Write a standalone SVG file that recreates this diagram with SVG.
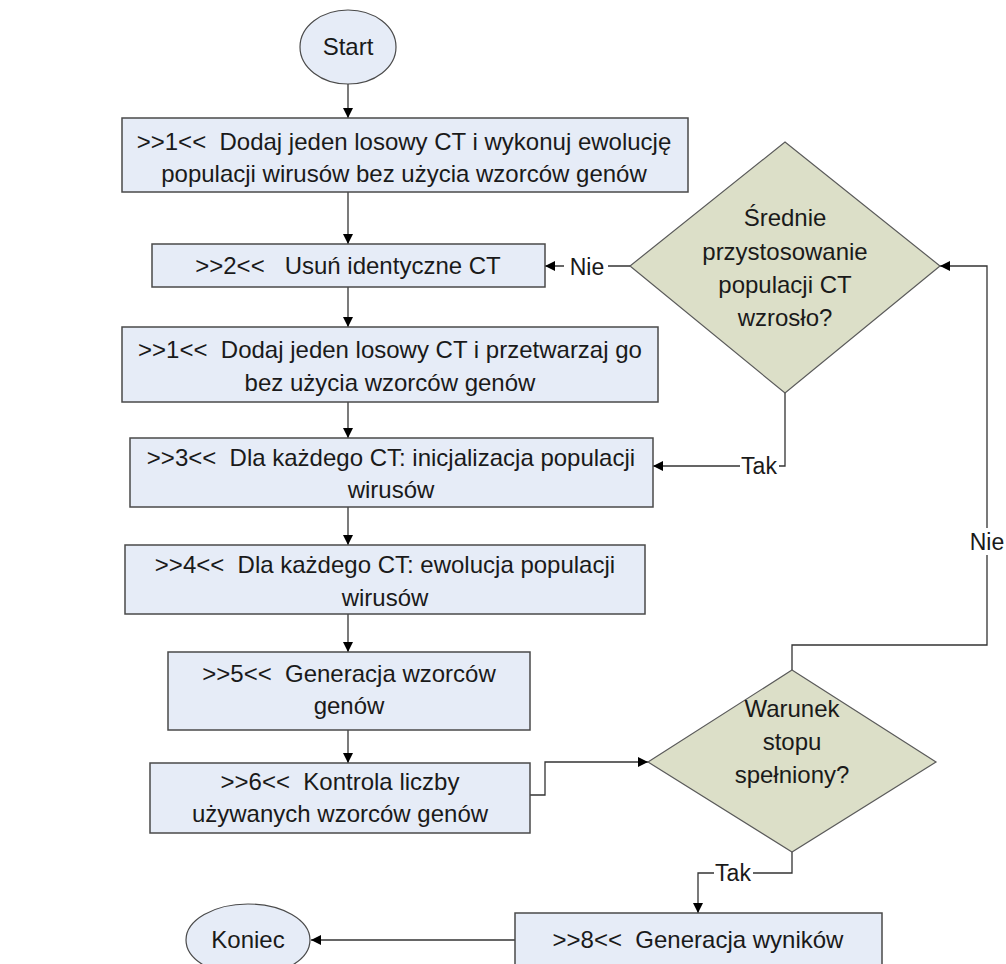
<svg xmlns="http://www.w3.org/2000/svg" width="1006" height="964" viewBox="0 0 1006 964">
  <style>
    .box { fill: #E6ECF7; stroke: #4a4a4a; stroke-width: 1.5; }
    .dec { fill: #DCDFC8; stroke: #5a5a5a; stroke-width: 1.2; }
    .term { fill: #E6ECF7; stroke: #4a4a4a; stroke-width: 1.2; }
    .t { font-family: "Liberation Sans", Arial, sans-serif; font-size: 24px; fill: #1a1a1a; text-anchor: middle; }
    .lbl { font-family: "Liberation Sans", Arial, sans-serif; font-size: 23px; fill: #1a1a1a; text-anchor: middle; }
    .ln { fill: none; stroke: #333; stroke-width: 1.3; }
    .bg { fill: #ffffff; }
  </style>
  <defs>
    <marker id="arr" viewBox="0 0 10 10" refX="10" refY="5" markerWidth="11" markerHeight="10" markerUnits="userSpaceOnUse" orient="auto">
      <path d="M0,0 L10,5 L0,10 z" fill="#000"/>
    </marker>
  </defs>

  <rect width="1006" height="964" fill="#ffffff"/>

  <!-- connectors -->
  <g id="connectors">
    <line class="ln" x1="348" y1="84" x2="348" y2="118" marker-end="url(#arr)"/>
    <line class="ln" x1="348" y1="192" x2="348" y2="244" marker-end="url(#arr)"/>
    <line class="ln" x1="348" y1="287" x2="348" y2="327" marker-end="url(#arr)"/>
    <line class="ln" x1="348" y1="402" x2="348" y2="438" marker-end="url(#arr)"/>
    <line class="ln" x1="348" y1="507" x2="348" y2="545" marker-end="url(#arr)"/>
    <line class="ln" x1="348" y1="614" x2="348" y2="652" marker-end="url(#arr)"/>
    <line class="ln" x1="348" y1="730" x2="348" y2="763" marker-end="url(#arr)"/>
    <!-- Kontrola -> Warunek -->
    <polyline class="ln" points="530,795 545,795 545,762 648,762" marker-end="url(#arr)"/>
    <!-- Warunek: Tak -> wyniki -->
    <polyline class="ln" points="792,852 792,873 698,873 698,913" marker-end="url(#arr)"/>
    <!-- wyniki -> Koniec -->
    <line class="ln" x1="515" y1="940" x2="311" y2="940" marker-end="url(#arr)"/>
    <!-- Warunek: Nie -> Srednie -->
    <polyline class="ln" points="792,670 792,645 987,645 987,266 940,266" marker-end="url(#arr)"/>
    <!-- Srednie: Nie -> Usun -->
    <line class="ln" x1="630" y1="266" x2="545" y2="266" marker-end="url(#arr)"/>
    <!-- Srednie: Tak -> inicjalizacja -->
    <polyline class="ln" points="785,393 785,466 653,466" marker-end="url(#arr)"/>

    <!-- connector labels -->
    <rect class="bg" x="564" y="253" width="44" height="26"/>
    <text class="lbl" x="587" y="275">Nie</text>
    <rect class="bg" x="740" y="454" width="39" height="24"/>
    <text class="lbl" x="759" y="474">Tak</text>
    <rect class="bg" x="967" y="528" width="39" height="27"/>
    <text class="lbl" x="987" y="550">Nie</text>
    <rect class="bg" x="714" y="861" width="39" height="24"/>
    <text class="lbl" x="733" y="881">Tak</text>
  </g>

  <g id="start">
    <ellipse class="term" cx="348" cy="47" rx="48" ry="37"/>
    <text class="t" x="348" y="55">Start</text>
  </g>

  <g id="step1a">
    <rect class="box" x="122" y="118" width="566" height="74"/>
    <text class="t" x="404" y="150" xml:space="preserve">&gt;&gt;1&lt;&lt;  Dodaj jeden losowy CT i wykonuj ewolucję</text>
    <text class="t" x="404" y="182">populacji wirusów bez użycia wzorców genów</text>
  </g>

  <g id="step2">
    <rect class="box" x="152" y="244" width="393" height="43"/>
    <text class="t" x="348" y="274" xml:space="preserve">&gt;&gt;2&lt;&lt;   Usuń identyczne CT</text>
  </g>

  <g id="step1b">
    <rect class="box" x="122" y="327" width="536" height="75"/>
    <text class="t" x="390" y="358" xml:space="preserve">&gt;&gt;1&lt;&lt;  Dodaj jeden losowy CT i przetwarzaj go</text>
    <text class="t" x="390" y="391">bez użycia wzorców genów</text>
  </g>

  <g id="step3">
    <rect class="box" x="130" y="438" width="523" height="69"/>
    <text class="t" x="391" y="466" xml:space="preserve">&gt;&gt;3&lt;&lt;  Dla każdego CT: inicjalizacja populacji</text>
    <text class="t" x="391" y="498">wirusów</text>
  </g>

  <g id="step4">
    <rect class="box" x="125" y="545" width="520" height="69"/>
    <text class="t" x="385" y="573" xml:space="preserve">&gt;&gt;4&lt;&lt;  Dla każdego CT: ewolucja populacji</text>
    <text class="t" x="385" y="606">wirusów</text>
  </g>

  <g id="step5">
    <rect class="box" x="168" y="652" width="362" height="78"/>
    <text class="t" x="349" y="682" xml:space="preserve">&gt;&gt;5&lt;&lt;  Generacja wzorców</text>
    <text class="t" x="349" y="714">genów</text>
  </g>

  <g id="step6">
    <rect class="box" x="150" y="763" width="380" height="70"/>
    <text class="t" x="340" y="790" xml:space="preserve">&gt;&gt;6&lt;&lt;  Kontrola liczby</text>
    <text class="t" x="340" y="822">używanych wzorców genów</text>
  </g>

  <g id="decision-fitness">
    <polygon class="dec" points="785,142 940,266 785,393 630,266"/>
    <text class="t" x="785" y="226">Średnie</text>
    <text class="t" x="785" y="260">przystosowanie</text>
    <text class="t" x="785" y="293">populacji CT</text>
    <text class="t" x="785" y="326">wzrosło?</text>
  </g>

  <g id="decision-stop">
    <polygon class="dec" points="792,670 936,762 792,852 648,762"/>
    <text class="t" x="792" y="717">Warunek</text>
    <text class="t" x="792" y="750">stopu</text>
    <text class="t" x="792" y="783">spełniony?</text>
  </g>

  <g id="step8">
    <rect class="box" x="515" y="913" width="367" height="60"/>
    <text class="t" x="698" y="948" xml:space="preserve">&gt;&gt;8&lt;&lt;  Generacja wyników</text>
  </g>

  <g id="end">
    <ellipse class="term" cx="248" cy="940" rx="62" ry="36"/>
    <text class="t" x="248" y="948">Koniec</text>
  </g>
</svg>
